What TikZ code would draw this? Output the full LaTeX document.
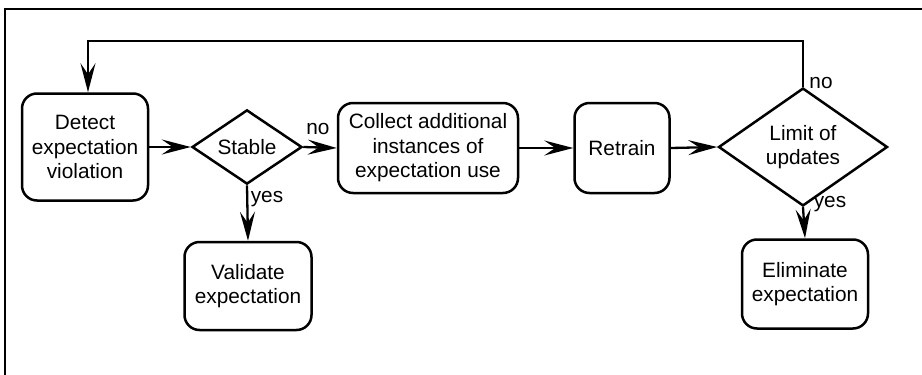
\documentclass[tikz,border=0pt]{standalone}
\usepackage{fontspec}
\setmainfont{Liberation Sans}
\usetikzlibrary{shapes.geometric,arrows.meta}
\begin{document}
\begin{tikzpicture}[x=1pt,y=-1pt,
  font=\fontsize{20.8}{24.5}\selectfont,
  line width=2.5pt,
  stepbox/.style={draw,rounded corners=15pt,align=center,inner sep=0pt},
  decision/.style={draw,diamond,inner sep=0pt,align=center},
  flow/.style={line width=2.3pt,-{Stealth[length=29pt 0,width=15pt 0,inset=11pt 0]}},
  lbl/.style={inner sep=0pt}]
\useasboundingbox (0,0) rectangle (922,375);
% frame
\draw[line width=2.8pt] (5,375) -- (5,9) -- (922,9);
% process steps
\node[stepbox,minimum width=126pt,minimum height=107pt] (detect) at (85,147) {Detect\\expectation\\violation};
\node[decision,minimum width=110pt,minimum height=63pt] (stable) at (247,147) {Stable};
\node[stepbox,minimum width=180pt,minimum height=90pt] (collect) at (428,148) {Collect additional\\instances of\\expectation use};
\node[stepbox,minimum width=95pt,minimum height=90pt] (retrain) at (622,148) {Retrain};
\node[decision,minimum width=169pt,minimum height=81pt] (limit) at (803,147) {Limit of\\updates};
\node[stepbox,minimum width=127pt,minimum height=88pt] (validate) at (248,286) {Validate\\expectation};
\node[stepbox,minimum width=126pt,minimum height=89pt] (eliminate) at (805,284) {Eliminate\\expectation};
% connectors
\coordinate (loopR) at (803,41);
\coordinate (loopL) at (88,41);
\draw[flow] (detect.east) -- (stable.west);
\draw[flow] (stable.east) -- (collect.west);
\draw[flow] (collect.east) -- (retrain.west);
\draw[flow] (retrain.east) -- (limit.west);
\draw[flow] (stable.south) -- (validate.north);
\draw[flow] (limit.south) -- (eliminate.north);
\draw[flow] (limit.north) -- (loopR) -- (loopL) -- (loopL |- detect.north);
% branch labels
\node[lbl] (noA) at (318,129) {no};
\node[lbl] (noB) at (821,83) {no};
\node[lbl] (yesA) at (267,199) {yes};
\node[lbl] (yesB) at (830,204) {yes};
\end{tikzpicture}
\end{document}
